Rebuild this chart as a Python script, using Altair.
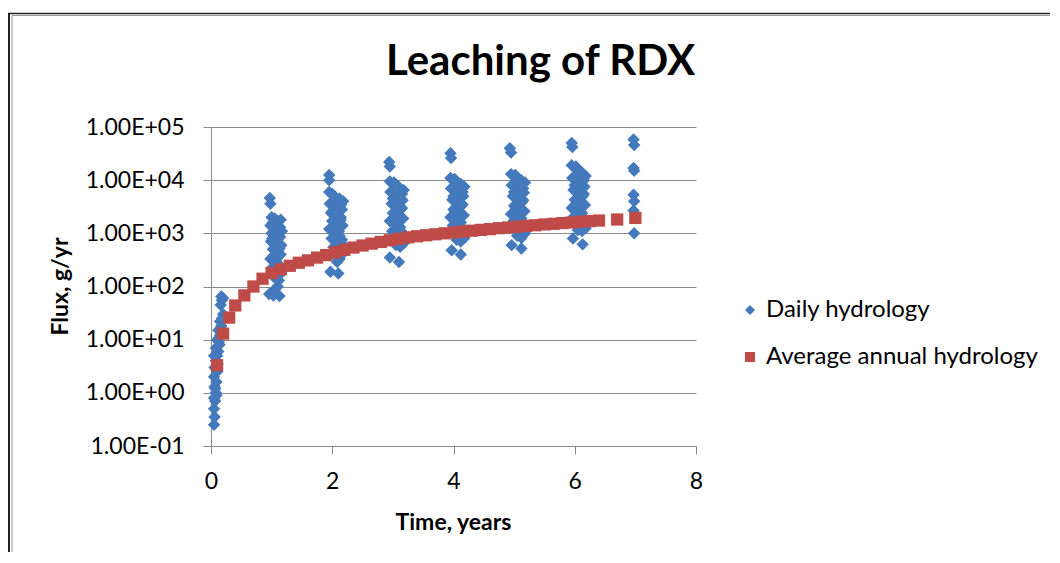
import altair as alt
import pandas as pd

title_text = "Leaching of RDX"
x_title = "Time, years"
y_title = "Flux, g/yr"
series_names = ["Daily hydrology", "Average annual hydrology"]
series_colors = ["#4479BB", "#BE4B48"]
series_shapes = ["diamond", "square"]
y_ticks = [0.1, 1, 10, 100, 1000, 10000, 100000]
x_ticks = [0, 2, 4, 6, 8]

# Daily hydrology, one list pair per yearly cluster
t0 = [0.05, 0.06, 0.05, 0.07, 0.05, 0.08, 0.06, 0.09, 0.05, 0.10, 0.06, 0.08, 0.05, 0.10,
      0.12, 0.08, 0.14, 0.10, 0.15, 0.12, 0.17, 0.15, 0.18, 0.20, 0.16, 0.18, 0.20, 0.17,
      0.07, 0.11, 0.09, 0.13]
v0 = [0.25, 0.35, 0.5, 0.7, 0.8, 1.0, 1.3, 1.6, 2.0, 2.5, 3, 4, 5, 5,
      6, 7, 8, 10, 12, 15, 18, 22, 25, 30, 45, 55, 60, 65,
      1.2, 3.5, 0.9, 9]

t1 = [0.97, 0.98, 1.00, 1.05, 1.10, 1.15, 0.98, 1.03, 1.12, 1.17, 1.00, 1.08, 1.14, 0.99, 1.06, 1.16,
      1.02, 1.10, 1.15, 0.98, 1.05, 1.12, 1.00, 1.08, 1.16, 1.04, 1.12, 1.10, 1.06, 0.96, 1.03, 1.13,
      1.02, 1.09, 1.14, 1.01, 1.07, 1.13, 1.03, 1.09]
v1 = [4600, 3600, 2000, 1900, 1700, 1800, 1400, 1300, 1200, 1100, 1000, 950, 850, 700, 650, 600,
      500, 450, 400, 330, 300, 260, 220, 200, 180, 150, 130, 100, 90, 72, 68, 66,
      1600, 1500, 1300, 800, 750, 520, 380, 340]

t2 = [1.95, 1.95, 1.95, 2.00, 2.05, 2.12, 2.18, 1.96, 2.03, 2.10, 2.16, 1.98, 2.06, 2.14, 2.00, 2.08,
      2.17, 1.95, 2.04, 2.12, 1.99, 2.07, 2.15, 2.02, 2.10, 2.18, 2.05, 2.12, 2.08, 1.97, 2.10,
      2.02, 2.09, 2.15, 2.00, 2.08, 2.14, 2.03, 2.11, 2.16, 2.06]
v2 = [12500, 10000, 6000, 5500, 4800, 4500, 4000, 3600, 3300, 3000, 2800, 2400, 2200, 2000, 1700, 1500,
      1400, 1200, 1000, 900, 800, 700, 650, 550, 480, 420, 380, 330, 290, 190, 175,
      5200, 4200, 3500, 2600, 2400, 1800, 1300, 1100, 760, 600]

t3 = [2.94, 2.95, 2.95, 3.00, 3.06, 3.12, 3.18, 2.96, 3.03, 3.10, 3.16, 2.98, 3.05, 3.13, 3.00, 3.08,
      3.17, 2.95, 3.04, 3.12, 2.99, 3.07, 3.15, 3.02, 3.10, 3.18, 3.05, 3.12, 2.95, 3.10,
      3.02, 3.09, 3.15, 3.00, 3.08, 3.15, 3.02, 3.10, 3.14, 3.06]
v3 = [22000, 18000, 9500, 8500, 8000, 7000, 6500, 6000, 5200, 4800, 4200, 3600, 3200, 2800, 2400, 2100,
      1900, 1700, 1500, 1300, 1100, 1000, 900, 800, 700, 650, 600, 560, 350, 290,
      9000, 7500, 5500, 4500, 3500, 3000, 2000, 1800, 1100, 950]

t4 = [3.95, 3.96, 3.95, 4.00, 4.06, 4.12, 4.18, 3.96, 4.03, 4.10, 4.16, 3.98, 4.05, 4.13, 4.00, 4.08,
      4.17, 3.95, 4.04, 4.12, 3.99, 4.07, 4.15, 4.02, 4.10, 4.18, 4.05, 4.12, 3.97, 4.12,
      4.02, 4.09, 4.15, 4.00, 4.08, 4.15, 4.02, 4.10, 4.14, 4.06]
v4 = [32000, 26000, 11000, 10000, 9000, 8500, 7500, 7000, 6200, 5500, 5000, 4300, 3800, 3300, 2800, 2500,
      2200, 2000, 1800, 1600, 1400, 1250, 1150, 1000, 900, 820, 760, 700, 480, 400,
      10500, 8000, 6000, 5000, 4000, 3500, 2300, 2100, 1300, 1100]

t5 = [4.93, 4.95, 4.95, 5.00, 5.06, 5.12, 5.18, 4.96, 5.03, 5.10, 5.16, 4.98, 5.05, 5.13, 5.00, 5.08,
      5.17, 4.95, 5.04, 5.12, 4.99, 5.07, 5.15, 5.02, 5.10, 5.18, 5.05, 5.12, 4.96, 5.12,
      5.02, 5.09, 5.15, 5.00, 5.08, 5.15, 5.02, 5.10, 5.14, 5.06]
v5 = [40000, 33000, 13000, 12000, 11000, 10000, 9000, 8000, 7200, 6500, 5800, 5000, 4400, 3900, 3300, 2900,
      2600, 2300, 2100, 1900, 1700, 1500, 1350, 1200, 1100, 1000, 900, 820, 600, 520,
      12500, 9500, 7000, 6000, 4700, 4200, 2800, 2500, 1600, 1300]

t6 = [5.95, 5.96, 5.95, 6.00, 6.06, 6.12, 6.18, 5.96, 6.03, 6.10, 6.16, 5.98, 6.05, 6.13, 6.00, 6.08,
      6.17, 5.95, 6.04, 6.12, 5.99, 6.07, 6.15, 6.02, 6.10, 6.18, 6.05, 6.12, 5.97, 6.13,
      6.02, 6.09, 6.15, 6.00, 6.08, 6.15, 6.02, 6.10, 6.14, 6.06]
v6 = [50000, 42000, 19000, 17000, 15000, 14000, 12000, 11000, 9500, 8500, 7500, 6500, 5800, 5000, 4300, 3800,
      3400, 3000, 2700, 2400, 2100, 1900, 1700, 1500, 1350, 1250, 1150, 1100, 800, 620,
      18000, 13000, 10000, 8000, 6200, 5500, 3600, 3200, 2000, 1700]

t7 = [6.97, 6.98, 6.97, 6.98, 6.97, 6.98, 6.97, 6.98]
v7 = [58000, 46000, 17000, 15000, 5300, 4000, 2700, 1000]

# Average annual hydrology
avg_t = [0.1, 0.2, 0.3, 0.4, 0.55, 0.7, 0.85, 1.0, 1.15, 1.3, 1.45, 1.6, 1.75, 1.9, 2.05, 2.2,
         2.35, 2.5, 2.65, 2.8, 2.95, 3.1, 3.25, 3.4, 3.55, 3.7, 3.85, 4.0, 4.15, 4.3, 4.45, 4.6,
         4.75, 4.9, 5.05, 5.2, 5.35, 5.5, 5.65, 5.8, 5.95, 6.1, 6.25, 6.4, 6.7, 7.0]
avg_v = [3.3, 13, 26, 44, 68, 100, 140, 180, 210, 245, 280, 310, 350, 390, 440, 490,
         540, 590, 640, 690, 740, 790, 840, 880, 920, 960, 1000, 1040, 1080, 1120, 1160, 1200,
         1250, 1290, 1330, 1380, 1420, 1470, 1510, 1560, 1600, 1650, 1700, 1740, 1820, 1950]

daily_t = t0 + t1 + t2 + t3 + t4 + t5 + t6 + t7
daily_v = v0 + v1 + v2 + v3 + v4 + v5 + v6 + v7

df_daily = pd.DataFrame({"t": daily_t, "v": daily_v, "series": series_names[0]})
df_avg = pd.DataFrame({"t": avg_t, "v": avg_v, "series": series_names[1]})

FONT = "Lato"
GRID = "#8a8a8a"

color_scale = alt.Scale(domain=series_names, range=series_colors)
shape_scale = alt.Scale(domain=series_names, range=series_shapes)
legend = alt.Legend(
    title=None, orient="none", legendX=527, legendY=171, padding=0,
    labelFont=FONT, labelFontSize=24, labelColor="#000000", labelOffset=4, labelLimit=400,
    symbolSize=100, rowPadding=23, symbolStrokeWidth=0,
)

x_enc = alt.X(
    "t:Q",
    scale=alt.Scale(domain=[0, 8], nice=False),
    axis=alt.Axis(
        values=x_ticks, grid=False, title=x_title, format="d", labelFlush=False,
        labelFont=FONT, labelFontSize=23, labelColor="#000000", labelPadding=16,
        tickSize=8, tickColor=GRID, domainColor=GRID,
        titleFont=FONT, titleFontSize=23, titleFontWeight="bold", titleColor="#000000",
        titleX=242, titleY=83, titleBaseline="alphabetic", titleAlign="center",
    ),
)
y_enc = alt.Y(
    "v:Q",
    scale=alt.Scale(type="log", domain=[0.1, 100000], nice=False),
    axis=alt.Axis(
        values=y_ticks, grid=True, gridColor=GRID, title=y_title,
        labelExpr="replace(replace(format(datum.value, '.2e'), 'e+', 'E+0'), 'e-', 'E-0')",
        labelFont=FONT, labelFontSize=23, labelColor="#000000", labelPadding=19,
        tickSize=8, tickColor=GRID, domainColor=GRID,
        titleFont=FONT, titleFontSize=23, titleFontWeight="bold", titleColor="#000000",
        titleX=-144, titleY=159, titleAngle=270, titleBaseline="alphabetic", titleAlign="center",
    ),
)

daily = alt.Chart(df_daily).mark_point(filled=True, opacity=1, size=155).encode(
    x=x_enc, y=y_enc,
    color=alt.Color("series:N", scale=color_scale, legend=legend),
    shape=alt.Shape("series:N", scale=shape_scale, legend=legend),
)
avg = alt.Chart(df_avg).mark_point(filled=True, opacity=1, size=150).encode(
    x=x_enc, y=y_enc,
    color=alt.Color("series:N", scale=color_scale, legend=legend),
    shape=alt.Shape("series:N", scale=shape_scale, legend=legend),
)

frame_df = pd.DataFrame({"k": [0]})
frame_left_outer = alt.Chart(frame_df).mark_rule(color="#222222", strokeWidth=2).encode(
    x=alt.value(-202), y=alt.value(-114), y2=alt.value(440))
frame_left_inner = alt.Chart(frame_df).mark_rule(color="#9a9a9a", strokeWidth=1).encode(
    x=alt.value(-199), y=alt.value(-111), y2=alt.value(440))
frame_top_outer = alt.Chart(frame_df).mark_rule(color="#222222", strokeWidth=1.5).encode(
    y=alt.value(-113.5), x=alt.value(-203), x2=alt.value(845))
frame_top_inner = alt.Chart(frame_df).mark_rule(color="#9a9a9a", strokeWidth=1).encode(
    y=alt.value(-111.5), x=alt.value(-199), x2=alt.value(845))

chart = alt.layer(
    frame_left_outer, frame_left_inner, frame_top_outer, frame_top_inner, daily, avg
).properties(
    width=485, height=319,
    title=alt.TitleParams(
        text=title_text, font=FONT, fontSize=42, fontWeight="bold", color="#000000",
        anchor="middle", dx=87, offset=-105, baseline="alphabetic",
    ),
    autosize=alt.AutoSizeParams(type="none"),
    padding={"left": 203, "top": 119, "right": 354, "bottom": 106},
    background="white",
).configure_view(stroke=None)

chart.save("out.html", embed_options={"renderer": "svg", "actions": False})
